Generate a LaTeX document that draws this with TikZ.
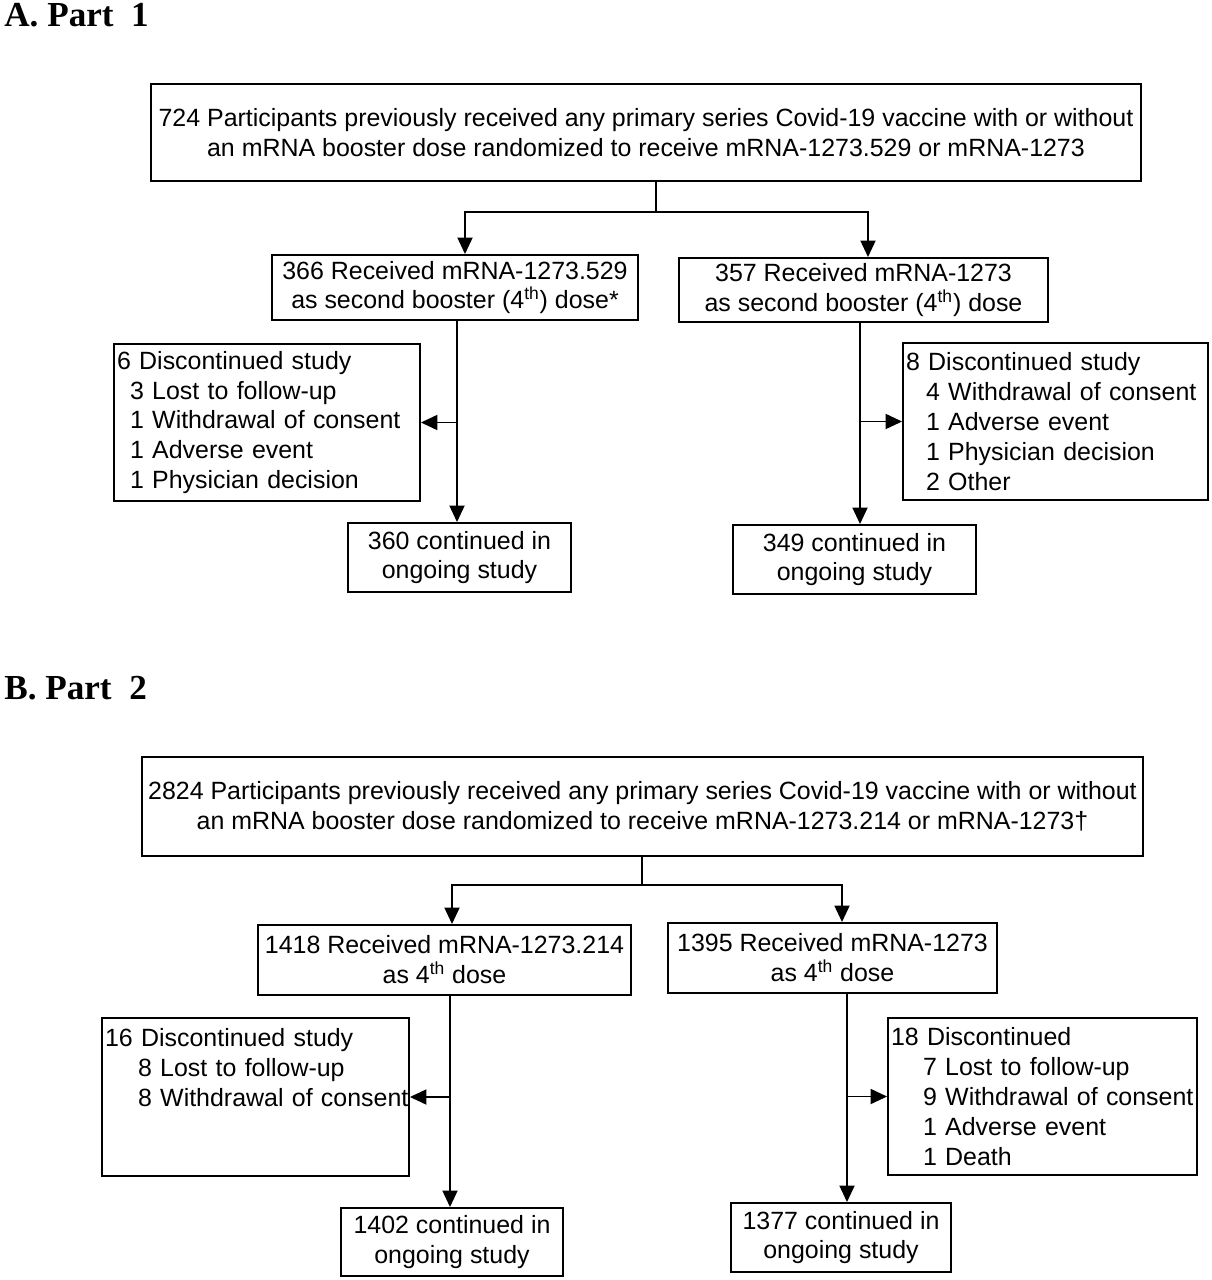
\documentclass[tikz,border=0pt]{standalone}
\usepackage{fontspec}
\setmainfont{Liberation Sans}
\newfontfamily\headfont{Liberation Serif}
\usetikzlibrary{arrows.meta,positioning,calc}
\tikzset{
  flow/.style={-{Triangle[length=3.3mm,width=3mm]},line width=1.1pt},
  stem/.style={line width=1.1pt},
  card/.style={draw,line width=1.1pt,align=center,inner sep=0pt,
               font=\fontsize{14.2}{17}\selectfont},
  listcard/.style={card,align=left,inner xsep=.06cm},
  parthead/.style={font=\headfont\fontsize{20}{24}\selectfont\bfseries,
                   anchor=west,inner sep=0pt},
}

\begin{document}
\begin{tikzpicture}[x=.02cm,y=-.02cm]
  \useasboundingbox (0,0) rectangle (1212,1280);

  % --- A. Part 1 ---
  \node[parthead] (headA) at (4,15) {A. Part\ \ 1};
  \node[card,minimum width=19.8cm,minimum height=1.94cm] (topA) at (646,132.5)
    {724 Participants previously received any primary series Covid-19 vaccine with or without\\
     an mRNA booster dose randomized to receive mRNA-1273.529 or mRNA-1273};
  \node[card,minimum width=7.32cm,minimum height=1.3cm] (recvA1) at (455,287.5)
    {366 Received mRNA-1273.529\\as second booster (4\textsuperscript{th}) dose*};
  \node[card,minimum width=7.38cm,minimum height=1.28cm] (recvA2) at (863.5,290)
    {357 Received mRNA-1273\\as second booster (4\textsuperscript{th}) dose};
  \node[listcard,text width=6.0cm,minimum height=3.14cm] (discA1) at (267,422.5)
    {6 Discontinued study\\
     \hspace*{.26cm}3 Lost to follow-up\\
     \hspace*{.26cm}1 Withdrawal of consent\\
     \hspace*{.26cm}1 Adverse event\\
     \hspace*{.26cm}1 Physician decision};
  \node[listcard,text width=5.98cm,minimum height=3.14cm] (discA2) at (1055.5,421.5)
    {8 Discontinued study\\
     \hspace*{.4cm}4 Withdrawal of consent\\
     \hspace*{.4cm}1 Adverse event\\
     \hspace*{.4cm}1 Physician decision\\
     \hspace*{.4cm}2 Other};
  \node[card,minimum width=4.46cm,minimum height=1.38cm] (contA1) at (459.5,557.5)
    {360 continued in\\ongoing study};
  \node[card,minimum width=4.86cm,minimum height=1.38cm] (contA2) at (854.5,559.5)
    {349 continued in\\ongoing study};

  \coordinate (splitA) at (656,212);
  \draw[stem] (topA.south -| splitA) -- (splitA);
  \draw[flow] (splitA) -| ([xshift=.2cm]recvA1.north);
  \draw[flow] (splitA) -| ([xshift=.09cm]recvA2.north);
  \draw[flow] ([xshift=-.05cm]contA1.north |- recvA1.south) -- ([xshift=-.05cm]contA1.north);
  \draw[flow] ([xshift=-.05cm]contA1.north |- discA1.east) -- (discA1.east);
  \draw[flow] ([xshift=.11cm]contA2.north |- recvA2.south) -- ([xshift=.11cm]contA2.north);
  \draw[flow] ([xshift=.11cm]contA2.north |- discA2.west) -- (discA2.west);

  % --- B. Part 2 ---
  \node[parthead] (headB) at (4,688) {B. Part\ \ 2};
  \node[card,minimum width=20.02cm,minimum height=1.98cm] (topB) at (642.5,806.5)
    {2824 Participants previously received any primary series Covid-19 vaccine with or without\\
     an mRNA booster dose randomized to receive mRNA-1273.214 or mRNA-1273†};
  \node[card,minimum width=7.46cm,minimum height=1.4cm] (recvB1) at (444.5,960)
    {1418 Received mRNA-1273.214\\as 4\textsuperscript{th} dose};
  \node[card,minimum width=6.58cm,minimum height=1.4cm] (recvB2) at (832.5,958)
    {1395 Received mRNA-1273\\as 4\textsuperscript{th} dose};
  \node[listcard,text width=6.02cm,minimum height=3.16cm] (discB1) at (255.5,1097)
    {16 Discontinued study\\
     \hspace*{.66cm}8 Lost to follow-up\\
     \hspace*{.66cm}\mbox{8 Withdrawal of consent}\\
     \mbox{}\\
     \mbox{}};
  \node[listcard,text width=6.06cm,minimum height=3.14cm] (discB2) at (1042.5,1096.5)
    {18 Discontinued\\
     \hspace*{.64cm}7 Lost to follow-up\\
     \hspace*{.64cm}\mbox{9 Withdrawal of consent}\\
     \hspace*{.64cm}1 Adverse event\\
     \hspace*{.64cm}1 Death};
  \node[card,minimum width=4.44cm,minimum height=1.36cm] (contB1) at (452,1242)
    {1402 continued in\\ongoing study};
  \node[card,minimum width=4.4cm,minimum height=1.38cm] (contB2) at (841,1237.5)
    {1377 continued in\\ongoing study};

  \coordinate (splitB) at (642,885);
  \draw[stem] (topB.south -| splitB) -- (splitB);
  \draw[flow] (splitB) -| ([xshift=.15cm]recvB1.north);
  \draw[flow] (splitB) -| ([xshift=.19cm]recvB2.north);
  \draw[flow] ([xshift=-.04cm]contB1.north |- recvB1.south) -- ([xshift=-.04cm]contB1.north);
  \draw[flow] ([xshift=-.04cm]contB1.north |- discB1.east) -- (discB1.east);
  \draw[flow] ([xshift=.12cm]contB2.north |- recvB2.south) -- ([xshift=.12cm]contB2.north);
  \draw[flow] ([xshift=.12cm]contB2.north |- discB2.west) -- (discB2.west);
\end{tikzpicture}
\end{document}
